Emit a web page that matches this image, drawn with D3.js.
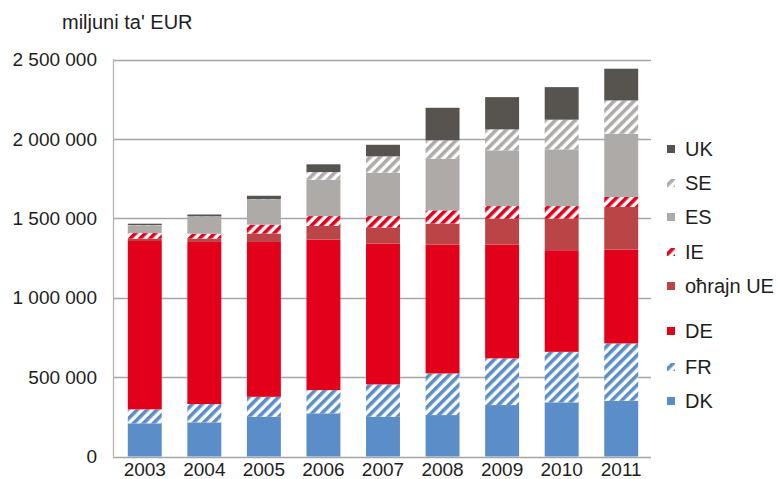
<!DOCTYPE html>
<html>
<head>
<meta charset="utf-8">
<script src="https://cdnjs.cloudflare.com/ajax/libs/d3/7.8.5/d3.min.js"></script>
<style>
  body { margin: 0; background: #fff; }
  text { font-family: "Liberation Sans", Arial, sans-serif; fill: #1e1e1e; }
</style>
</head>
<body>
<svg id="chart" width="777" height="479"></svg>
<script>
// years on the x axis
let years = ['2003', '2004', '2005', '2006', '2007', '2008', '2009', '2010', '2011'];

// values per country, in million EUR
let dk     = [209000, 215000, 250000, 272000, 250000, 261000, 324000, 341000, 351000];
let fr     = [ 88000, 115000, 126000, 146000, 204000, 262000, 294000, 318000, 361000];
let de     = [1060000, 1021000, 975000, 948000, 887000, 811000, 716000, 640000, 591000];
let other  = [ 15000,  21000,  53000,  86000, 100000, 133000, 164000, 199000, 268000];
let ie     = [ 35000,  31000,  56000,  62000,  73000,  83000,  79000,  79000,  63000];
let es     = [ 48000, 107000, 158000, 229000, 273000, 325000, 351000, 357000, 399000];
let se     = [  2000,   2000,   2000,  48000, 103000, 116000, 132000, 187000, 209000];
let uk     = [  9000,  12000,  22000,  49000,  73000, 205000, 203000, 205000, 200000];

let yTicks = [0, 500000, 1000000, 1500000, 2000000, 2500000];

let series = [
  { key: 'DK', label: 'DK', values: dk, color: '#5b8ec8', striped: false },
  { key: 'FR', label: 'FR', values: fr, color: '#5b8ec8', striped: true },
  { key: 'DE', label: 'DE', values: de, color: '#e2001a', striped: false },
  { key: 'OT', label: 'oħrajn UE', values: other, color: '#bb4446', striped: false },
  { key: 'IE', label: 'IE', values: ie, color: '#e2001a', striped: true },
  { key: 'ES', label: 'ES', values: es, color: '#adaaa7', striped: false },
  { key: 'SE', label: 'SE', values: se, color: '#adaaa7', striped: true },
  { key: 'UK', label: 'UK', values: uk, color: '#57534f', striped: false }
];

let svg = d3.select('#chart');

// stripe patterns
let defs = svg.append('defs');
series.filter(s => s.striped).forEach(function(s) {
  let p = defs.append('pattern')
    .attr('id', 'pat-' + s.key)
    .attr('patternUnits', 'userSpaceOnUse')
    .attr('width', 7)
    .attr('height', 7)
    .attr('patternTransform', 'rotate(45)');
  p.append('rect').attr('width', 7).attr('height', 7).attr('fill', '#fff');
  p.append('rect').attr('width', 3.6).attr('height', 7).attr('fill', s.color);
});

function fillOf(s) {
  return s.striped ? 'url(#pat-' + s.key + ')' : s.color;
}

let x = d3.scaleBand()
  .domain(years)
  .range([115, 651])
  .paddingInner(0.43)
  .paddingOuter(0.215);

let y = d3.scaleLinear()
  .domain([0, 2500000])
  .range([456.5, 59.5]);

let locale = d3.formatLocale({ decimal: ',', thousands: ' ', grouping: [3], currency: ['', ''] });
let fmt = locale.format(',');

// gridlines
svg.append('g')
  .selectAll('line')
  .data(yTicks)
  .join('line')
  .attr('x1', 113)
  .attr('x2', 651)
  .attr('y1', d => Math.round(y(d)) + 0.5)
  .attr('y2', d => Math.round(y(d)) + 0.5)
  .attr('stroke', '#a5a5a5')
  .attr('stroke-width', 1.3);

// left axis line
svg.append('line')
  .attr('x1', 113.5).attr('x2', 113.5)
  .attr('y1', y(2500000)).attr('y2', y(0))
  .attr('stroke', '#b5b5b5')
  .attr('stroke-width', 1.3);

// stacked bars
let stack = d3.stack()
  .keys(series.map(s => s.key))
  .value((d, key) => d[key]);

let rows = years.map(function(yr, i) {
  let r = { year: yr };
  series.forEach(s => { r[s.key] = s.values[i]; });
  return r;
});

let stacked = stack(rows);

svg.append('g')
  .selectAll('g')
  .data(stacked)
  .join('g')
  .attr('fill', (d, i) => fillOf(series[i]))
  .selectAll('rect')
  .data(d => d)
  .join('rect')
  .attr('x', d => x(d.data.year))
  .attr('width', x.bandwidth())
  .attr('y', d => y(d[1]))
  .attr('height', d => y(d[0]) - y(d[1]));

// y tick labels
svg.append('g')
  .selectAll('text')
  .data(yTicks)
  .join('text')
  .attr('x', 97)
  .attr('y', d => y(d))
  .attr('dy', '0.35em')
  .attr('text-anchor', 'end')
  .attr('font-size', 19)
  .text(d => fmt(d));

// x tick labels
svg.append('g')
  .selectAll('text')
  .data(years)
  .join('text')
  .attr('x', d => x(d) + x.bandwidth() / 2)
  .attr('y', 476)
  .attr('text-anchor', 'middle')
  .attr('font-size', 19)
  .text(d => d);

// unit title
svg.append('text')
  .attr('x', 62)
  .attr('y', 29)
  .attr('font-size', 20)
  .text("miljuni ta' EUR");

// legend
let legendY = { UK: 149, SE: 183, ES: 217, IE: 252, OT: 286, DE: 331, FR: 367, DK: 401 };
let legend = svg.append('g')
  .selectAll('g')
  .data(series)
  .join('g')
  .attr('transform', s => 'translate(667,' + legendY[s.key] + ')');

legend.append('rect')
  .attr('x', 0)
  .attr('y', -4)
  .attr('width', 8)
  .attr('height', 8)
  .attr('fill', s => fillOf(s));

legend.append('text')
  .attr('x', 18)
  .attr('dy', '0.35em')
  .attr('font-size', 20)
  .text(s => s.label);
</script>
</body>
</html>
